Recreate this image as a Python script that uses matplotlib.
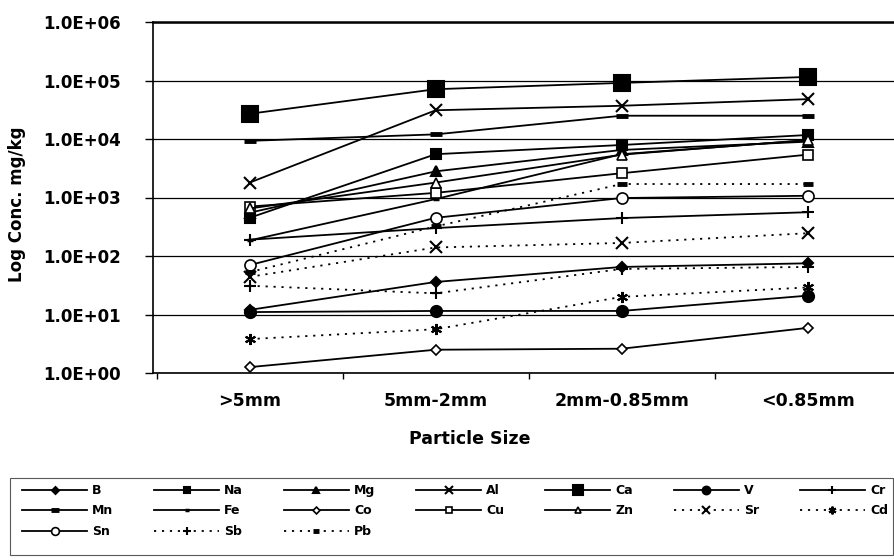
import matplotlib
matplotlib.use('Agg')
import matplotlib.pyplot as plt
from matplotlib.patches import Rectangle
from matplotlib.ticker import FixedLocator, FuncFormatter, NullFormatter
import numpy as np

plt.rcParams['font.family'] = ['DejaVu Sans']
plt.rcParams['font.weight'] = 'bold'

# categories
sizes = ['>5mm', '5mm-2mm', '2mm-0.85mm', '<0.85mm']

# concentrations, mg/kg
B = [12, 36, 65, 75]
Na = [450, 5500, 7900, 11700]
Mg = [550, 2800, 6500, 9000]
Al = [1800, 31000, 37000, 48000]
Ca = [27000, 71000, 91000, 115000]
V = [11, 11.5, 11.5, 21]
Cr = [190, 300, 445, 560]
Mn = [9300, 12000, 25000, 25000]
Fe = [185, 940, 5500, 9500]
Co = [1.26, 2.5, 2.6, 5.9]
Cu = [700, 1200, 2600, 5400]
Zn = [650, 1800, 5400, 9600]
Sr = [44, 140, 167, 245]
Cd = [3.8, 5.6, 20, 29]
Sn = [70, 450, 980, 1070]
Sb = [31, 23, 60, 65]
Pb = [53, 320, 1700, 1700]

dots = (0, (1.2, 3.2))
# name, values, marker, size, face, linestyle
series = [
    ('B', B, 'D', 5, 'k', '-'),
    ('Na', Na, 's', 7, 'k', '-'),
    ('Mg', Mg, '^', 7, 'k', '-'),
    ('Al', Al, 'x', 8, 'k', '-'),
    ('Ca', Ca, 's', 11, 'k', '-'),
    ('V', V, 'o', 8, 'k', '-'),
    ('Cr', Cr, '+', 9, 'k', '-'),
    ('Mn', Mn, '_', 8, 'k', '-'),
    ('Fe', Fe, '_', 5, 'k', '-'),
    ('Co', Co, 'D', 5, 'w', '-'),
    ('Cu', Cu, 's', 7, 'w', '-'),
    ('Zn', Zn, '^', 7, 'w', '-'),
    ('Sr', Sr, 'x', 8, 'k', dots),
    ('Cd', Cd, (6, 2, 0), 8, 'k', dots),
    ('Sn', Sn, 'o', 8, 'w', '-'),
    ('Sb', Sb, '+', 9, 'k', dots),
    ('Pb', Pb, '_', 7, 'k', dots),
]

fig = plt.figure(figsize=(8.95, 5.6), dpi=100)
ax = fig.add_axes([153/895, 187/560, 742/895, 351/560])

x = np.arange(len(sizes))
handles = {}
for name, vals, mk, ms, fc, ls in series:
    if mk == '_':
        mew = 3.5 if name != 'Fe' else 2.5
    elif fc == 'k' or mk in ('x', '+'):
        mew = 1.5
    else:
        mew = 1.2
    h, = ax.plot(x, vals, color='k', linestyle=ls, linewidth=1.3,
                 marker=mk, markersize=ms, markerfacecolor=fc,
                 markeredgecolor='k', markeredgewidth=mew,
                 label=name, clip_on=False, zorder=3)
    handles[name] = h

ax.set_yscale('log')
ax.set_ylim(1, 1e6)
ax.set_xlim(-0.52, 3.47)

ax.yaxis.set_major_locator(FixedLocator([10.0**k for k in range(7)]))
ax.yaxis.set_minor_locator(FixedLocator([]))
ax.yaxis.set_major_formatter(FuncFormatter(lambda v, p: f'{v:.1E}'))
ax.tick_params(axis='y', direction='out', length=6, width=1, pad=17, labelsize=12)

ax.set_xticks(x)
ax.set_xticklabels(sizes)
ax.xaxis.set_minor_locator(FixedLocator(np.arange(-0.5, 3.6, 1.0)))
ax.xaxis.set_minor_formatter(NullFormatter())
ax.tick_params(axis='x', which='major', length=0, pad=14, labelsize=12.5)
ax.tick_params(axis='x', which='minor', direction='out', length=4, width=1)

ax.grid(True, axis='y', which='major', color='k', linewidth=0.9)
ax.set_axisbelow(True)
ax.spines['right'].set_visible(False)
ax.spines['top'].set_linewidth(1.8)
ax.spines['left'].set_linewidth(1.2)
ax.spines['bottom'].set_linewidth(1.2)

ax.set_xlabel('Particle Size', fontsize=12.5, fontweight='bold')
ax.xaxis.set_label_coords((470 - 153) / 742, -(430 - 373) / 351)
ax.set_ylabel('Log Conc. mg/kg', fontsize=12, fontweight='bold')
ax.yaxis.set_label_coords(-(153 - 26) / 742, (373 - 204) / 351)

# legend box drawn separately so it can be taller than the entries
fig.patches.append(Rectangle((10/895, 5/560), 883/895, 77/560, transform=fig.transFigure,
                             fill=False, edgecolor='0.35', linewidth=0.8))

# legend is filled column by column, so order it to read row by row
order = ['B', 'Mn', 'Sn', 'Na', 'Fe', 'Sb', 'Mg', 'Co', 'Pb',
         'Al', 'Cu', 'Ca', 'Zn', 'V', 'Sr', 'Cr', 'Cd']
leg = fig.legend([handles[n] for n in order], order, loc='upper left',
                 bbox_to_anchor=(22/895, 0, 866/895, 1 - 484/560), mode='expand',
                 ncol=7, fontsize=9, handlelength=5.2, handletextpad=0.4,
                 labelspacing=0.6, borderaxespad=0.0, frameon=False,
                 borderpad=0.0, markerscale=0.7)
for t in leg.get_texts():
    t.set_fontweight('bold')

fig.savefig('out.png', dpi=100)
